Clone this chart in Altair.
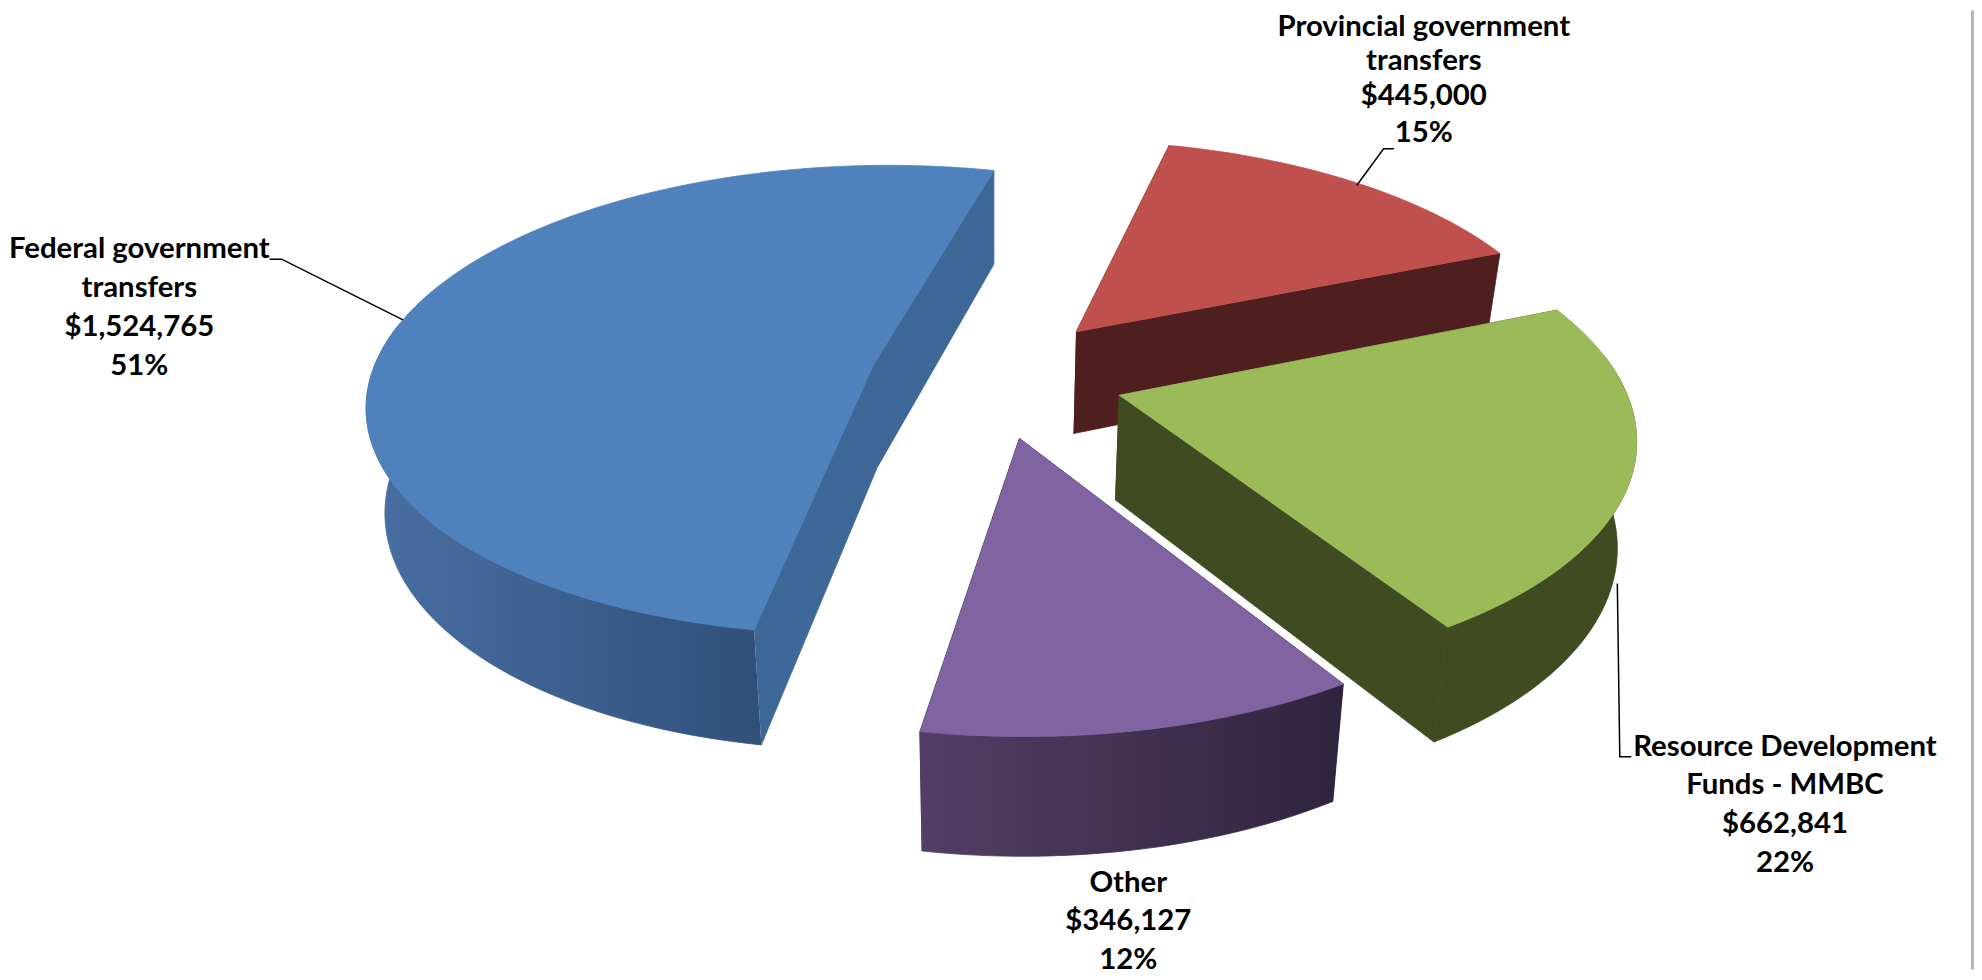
import math
import altair as alt
import pandas as pd

# --- chart data ---
categories = ["Provincial government transfers", "Resource Development Funds - MMBC", "Other", "Federal government transfers"]
values = [445000, 662841, 346127, 1524765]
label_lines = [
    ["Provincial government", "transfers", "$445,000", "15%"],
    ["Resource Development", "Funds - MMBC", "$662,841", "22%"],
    ["Other", "$346,127", "12%"],
    ["Federal government", "transfers", "$1,524,765", "51%"],
]
top_colors = ["#C0504D", "#9BBB59", "#8064A2", "#4F81BD"]
face_colors = ["#4F1F1F", "#404B22", "#30253F", "#3D6796"]
wall_stops = [
    ["#4F1F1F", "#4F1F1F"],
    ["#404B22", "#404B22"],
    ["#533E66", "#2E243D"],
    ["#486FA3", "#30507A"],
]
label_x = [1429, 1792, 1132, 138]
label_y = [[25, 59, 94, 131], [748, 787, 826, 865], [885, 923, 962], [248, 287, 326, 365]]
leaders = [
    [(1399, 147), (1388.6, 147), (1361.5, 184)],
    [(1623.5, 584), (1626, 758), (1637.6, 758)],
    [],
    [(269, 258), (281, 258), (403, 319)],
]
draw_order = [0, 3, 2, 1]
explode = [0.26, 0.26, 0.26, 0.245]

# --- 3D projection of the exploded pie ---
OX, OY = 996.0, 376.0
A, B, K, DEPTH, SHRINK = 505.0, 234.0, 0.15, 104.0, 0.97
START = 14.0


def project(px, py, lower=False):
    w = 1 + K * py
    sx = A * px / w
    sy = -B * py / w
    if lower:
        return OX + sx * SHRINK, OY + sy + DEPTH / w ** 0.7
    return OX + sx, OY + sy


def arc_pts(c, a0, a1, lower=False):
    n = max(2, int(abs(a1 - a0) / 1.5))
    pts = []
    for j in range(n + 1):
        t = math.radians(a0 + (a1 - a0) * j / n)
        pts.append(project(c[0] + math.sin(t), c[1] + math.cos(t), lower))
    return pts


total = sum(values)
ang = START
slices = []
for v in values:
    sweep = 360.0 * v / total
    slices.append((ang, ang + sweep))
    ang += sweep


def poly_chart(pts, fill):
    df = pd.DataFrame({"x": [p[0] for p in pts], "y": [p[1] for p in pts], "i": list(range(len(pts)))})
    return alt.Chart(df).mark_line(fill=fill, stroke=fill, strokeWidth=0.8, strokeJoin="round").encode(
        x=X, y=Y, order=alt.Order("i:Q")
    )


W, H = 1974, 964
X = alt.X("x:Q", scale=alt.Scale(domain=[8, 1982], nice=False, zero=False), axis=None)
Y = alt.Y("y:Q", scale=alt.Scale(domain=[972, 8], nice=False, zero=False), axis=None)

layers = []
for idx in draw_order:
    a0, a1 = slices[idx]
    mid = math.radians((a0 + a1) / 2)
    d = explode[idx]
    c = (d * math.sin(mid), d * math.cos(mid))
    # cut faces: one outline for a slice wider than half the pie, two quads otherwise
    t0, t1 = math.radians(a0), math.radians(a1)
    e0 = (c[0] + math.sin(t0), c[1] + math.cos(t0))
    e1 = (c[0] + math.sin(t1), c[1] + math.cos(t1))
    if a1 - a0 > 180:
        layers.append(poly_chart(
            [project(*e0), project(*c), project(*e1), project(*e1, True), project(*c, True), project(*e0, True)],
            face_colors[idx],
        ))
    else:
        for e in (e0, e1):
            layers.append(poly_chart(
                [project(*c), project(*e), project(*e, True), project(*c, True)], face_colors[idx]
            ))
    # outer wall: front-facing part of the arc only
    lo, hi = max(a0, 80.0), min(a1, 280.0)
    if hi > lo:
        top = arc_pts(c, lo, hi)
        bot = arc_pts(c, lo, hi, True)
        s = wall_stops[idx]
        grad = alt.Gradient(
            gradient="linear",
            stops=[alt.GradientStop(color=s[0], offset=0), alt.GradientStop(color=s[1], offset=1)],
            x1=0, x2=1, y1=0, y2=0,
        )
        layers.append(poly_chart(top + bot[::-1], grad))
    # top surface
    layers.append(poly_chart([project(*c)] + arc_pts(c, a0, a1), top_colors[idx]))

# leader lines
for pts in leaders:
    if pts:
        df = pd.DataFrame({"x": [p[0] for p in pts], "y": [p[1] for p in pts], "i": list(range(len(pts)))})
        layers.append(alt.Chart(df).mark_line(color="#000000", strokeWidth=1.5).encode(x=X, y=Y, order=alt.Order("i:Q")))

# labels
rows = []
for lines, ax, ys in zip(label_lines, label_x, label_y):
    for t, ay in zip(lines, ys):
        rows.append({"x": ax, "y": ay, "t": t})
layers.append(
    alt.Chart(pd.DataFrame(rows)).mark_text(
        font="Lato", fontWeight="bold", fontSize=29.5, align="center", baseline="middle", color="#000000"
    ).encode(x=X, y=Y, text="t:N")
)

# grey edge at the right of the picture
layers.append(
    alt.Chart(pd.DataFrame({"x": [1979], "x2": [1982]})).mark_rect(color="#b4b4b4").encode(
        x=X, x2="x2:Q", y=alt.value(0), y2=alt.value(H)
    )
)

chart = alt.layer(*layers).properties(
    width=W, height=H, padding=0, background="#ffffff"
).configure_view(stroke=None)

chart.save("out.html", embed_options={"renderer": "svg", "actions": False})
